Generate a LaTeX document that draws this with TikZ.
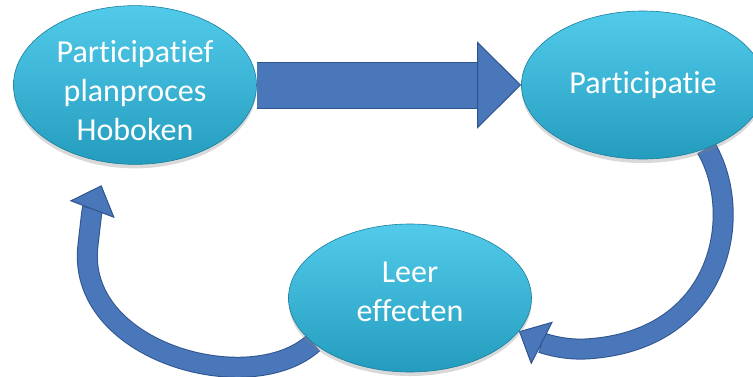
\documentclass[tikz,border=0pt]{standalone}
\usepackage{fontspec}
\setmainfont{Carlito}[Ligatures=NoCommon]
\usetikzlibrary{shapes.geometric, arrows.meta, shadows, backgrounds}
\definecolor{bubbletop}{RGB}{82,203,235}
\definecolor{bubblemid}{RGB}{50,181,219}
\definecolor{bubblebot}{RGB}{36,156,190}
\definecolor{bubbleedge}{RGB}{26,126,158}
\definecolor{arrowblue}{RGB}{74,118,186}
\definecolor{arrowedge}{RGB}{47,85,143}
\tikzstyle{bubble} = [ellipse, minimum width=243pt, minimum height=148pt, inner sep=0pt, top color=bubbletop, middle color=bubblemid, bottom color=bubblebot, draw=bubbleedge, line width=0.6pt, drop shadow={shadow xshift=0pt, shadow yshift=-4pt, opacity=0.3}, text=white, align=center, font=\fontsize{32}{39}\selectfont]
\tikzstyle{bigarrow} = [line width=45pt, arrowblue, -{Triangle[width=87pt, length=44pt, line width=1pt, fill=arrowblue, color=arrowedge]}, preaction={draw=arrowedge, line width=47pt, -, shorten >=43pt}]
\tikzstyle{curvearrow} = [line width=19pt, arrowblue, -{Triangle[width=48pt, length=26pt, line width=1pt, fill=arrowblue, color=arrowedge]}, preaction={draw=arrowedge, line width=21pt, -, shorten >=25pt}]
\begin{document}
\begin{tikzpicture}[x=1pt, y=-1pt]
\useasboundingbox (0,0) rectangle (753,376);
\node [bubble] at (135,85) (pp) {\rule{0pt}{34pt}Participatief\\planproces\\Hoboken};
\node [bubble] at (643,85) (part) {Participatie};
\node [bubble] at (410,298) (leer) {Leer\\effecten\rule[-12pt]{0pt}{12pt}};
\begin{scope}[on background layer]
\draw [bigarrow] (pp.east) -- (part.west);
\draw [curvearrow] (part.-45) .. controls (745,215) and (722,342) .. (585,349) .. controls (560,350) and (540,342) .. (leer.-17);
\draw [curvearrow] (leer.205) .. controls (250,400) and (75,352) .. (88,245) .. controls (92,210) .. ([xshift=2pt,yshift=-24pt]pp.245);
\end{scope}
\end{tikzpicture}
\end{document}
